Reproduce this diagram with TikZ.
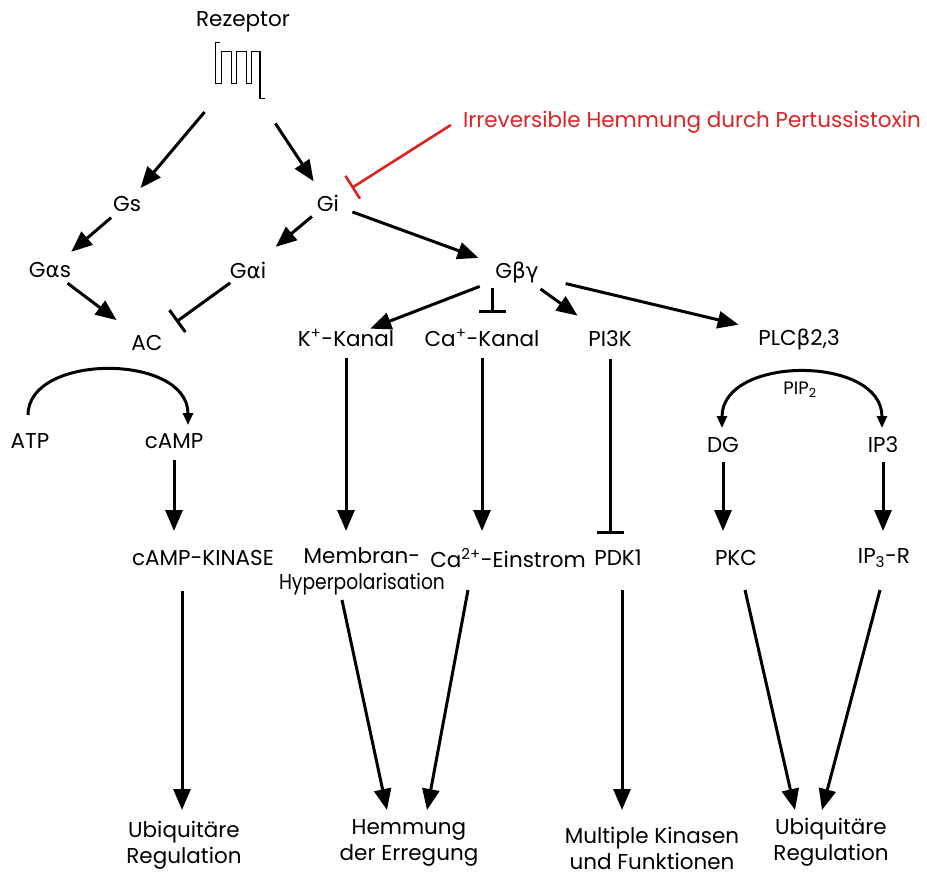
\documentclass[tikz,border=0pt]{standalone}
\usepackage{fontspec}
\setmainfont{Poppins}
\newfontfamily\grk{DejaVu Sans}
\usetikzlibrary{arrows.meta,calc}
\definecolor{redc}{RGB}{220,35,35}
\begin{document}
\begin{tikzpicture}[x=1pt,y=-1pt,
  lbl/.style={font=\fontsize{21.5}{26}\selectfont, inner sep=0pt, align=center},
  arr/.style={line width=3pt, -{Triangle[length=21pt,width=17pt]}},
  inh/.style={line width=3pt, -{Bar[width=27pt]}},
  redinh/.style={line width=2.6pt, redc, -{Bar[width=27pt]}},
  arcarr/.style={line width=3pt, -{Triangle[length=12pt,width=10pt]}},
  arcboth/.style={line width=3pt, {Triangle[length=12pt,width=10pt]}-{Triangle[length=12pt,width=10pt]}}]
\useasboundingbox (0,0) rectangle (927,876);
% receptor
\node[lbl] (rez) at (243,22) {Rezeptor};
\node[minimum width=50pt, minimum height=56pt, inner sep=0pt] (rec) at (240,70) {};
\draw[line width=1.5pt] (220,42.7) -- (215.7,42.7) -- (215.7,83.3) -- (221.7,83.3) -- (221.7,51.7) -- (231.7,51.7) -- (231.7,83.3) -- (236.7,83.3) -- (236.7,51.7) -- (246.7,51.7) -- (246.7,83.3) -- (251.7,83.3) -- (251.7,51.7) -- (260,51.7) -- (260,98.3) -- (265,98.3);
% labels
\node[lbl, text=redc] (pt) at (692,122) {Irreversible Hemmung durch Pertussistoxin};
\node[lbl] (gs) at (127,204) {Gs};
\node[lbl] (gi) at (328,203) {Gi};
\node[lbl] (gas) at (50,270) {G{\grk α}s};
\node[lbl] (gai) at (248,270) {G{\grk α}i};
\node[lbl] (gbg) at (517,272) {G{\grk βγ}};
\node[lbl] (ac) at (147,343) {AC};
\node[lbl] (kk) at (346,338) {K\textsuperscript{+}-Kanal};
\node[lbl] (cak) at (482,338) {Ca\textsuperscript{+}-Kanal};
\node[lbl] (pi3k) at (610,339) {PI3K};
\node[lbl] (plc) at (799,339) {PLC{\grk β}2,3};
\node[lbl] (atp) at (30,441) {ATP};
\node[lbl] (camp) at (174,441) {cAMP};
\node[lbl, font=\fontsize{18}{22}\selectfont] (pip) at (800,390) {PIP\textsubscript{2}};
\node[lbl] (dg) at (723,445) {DG};
\node[lbl] (ip3) at (883,445) {IP3};
\node[lbl] (camk) at (203,558) {cAMP-KINASE};
\node[lbl] (mem) at (362,571) {Membran-\\\scalebox{0.87}[1]{Hyperpolarisation}};
\node[lbl] (caein) at (508,558) {Ca\textsuperscript{2+}-Einstrom};
\node[lbl] (pdk) at (618,558) {PDK1};
\node[lbl] (pkc) at (736,558) {PKC};
\node[lbl] (ip3r) at (884,558) {IP\textsubscript{3}-R};
\node[lbl] (ubi1) at (184,845) {Ubiquitäre\\Regulation};
\node[lbl] (hem) at (409,843) {Hemmung\\der Erregung};
\node[lbl] (mult) at (652,848) {Multiple Kinasen\\und Funktionen};
\node[lbl] (ubi2) at (831,842) {Ubiquitäre\\Regulation};
% upper connectors
\draw[arr, shorten <=55pt, shorten >=21pt] (rec.center) -- (gs.center);
\draw[arr, shorten <=64pt, shorten >=26pt] (rec.center) -- (gi.center);
\draw[arr, shorten <=21pt, shorten >=28pt] (gs.center) -- (gas.center);
\draw[arr, shorten <=21pt, shorten >=36pt] (gi.center) -- (gai.center);
\draw[arr, shorten <=26pt, shorten >=41pt] (gi.center) -- (gbg.center);
\draw[arr, shorten <=22pt, shorten >=38pt] (gas.center) -- (ac.center);
\draw[inh, shorten <=22pt, shorten >=36pt] (gai.center) -- (ac.center);
\draw[redinh, shorten >=28pt] ($(pt.west)+(-12,3)$) -- (gi.center);
\draw[arr, shorten <=40pt, shorten >=26pt] (gbg.center) -- (kk.center);
\draw[inh] ($(gbg.center)+(-25,16)$) -- ($(cak.center)+(10,-25)$);
\draw[arr, shorten <=29pt, shorten >=40pt] (gbg.center) -- (pi3k.center);
\draw[arr, shorten <=50pt, shorten >=62pt] (gbg.center) -- (plc.center);
% arcs
\draw[arcarr] ($(atp.center)+(-2,-26)$) .. controls (28,353) and (188,353) .. ($(camp.center)+(14,-16)$);
\draw[arcboth] ($(dg.center)+(-1,-17)$) .. controls (722,355) and (882,355) .. ($(ip3.center)+(-1,-17)$);
% middle vertical connectors
\draw[arr] ($(camp.center)+(0,19)$) -- ($(camk.center)+(-29,-27)$);
\draw[arr] ($(kk.center)+(0,20)$) -- ($(mem.center)+(-16,-40)$);
\draw[arr] ($(cak.center)+(0,20)$) -- ($(caein.center)+(-26,-27)$);
\draw[inh] ($(pi3k.center)+(0,20)$) -- ($(pdk.center)+(-8,-24)$);
\draw[arr] ($(dg.center)+(0,17)$) -- ($(pkc.center)+(-13,-27)$);
\draw[arr] ($(ip3.center)+(0,17)$) -- ($(ip3r.center)+(-1,-27)$);
% lower connectors
\draw[arr] ($(camk.center)+(-21,33)$) -- ($(ubi1.center)+(-2,-35)$);
\draw[arr] ($(mem.center)+(-20,29)$) -- ($(hem.center)+(-22,-33)$);
\draw[arr] ($(caein.center)+(-40,32)$) -- ($(hem.center)+(18,-33)$);
\draw[arr] ($(pdk.center)+(4,32)$) -- ($(mult.center)+(-30,-38)$);
\draw[arr] ($(pkc.center)+(9,32)$) -- ($(ubi2.center)+(-36,-32)$);
\draw[arr] ($(ip3r.center)+(-4,32)$) -- ($(ubi2.center)+(-9,-32)$);
\end{tikzpicture}
\end{document}
